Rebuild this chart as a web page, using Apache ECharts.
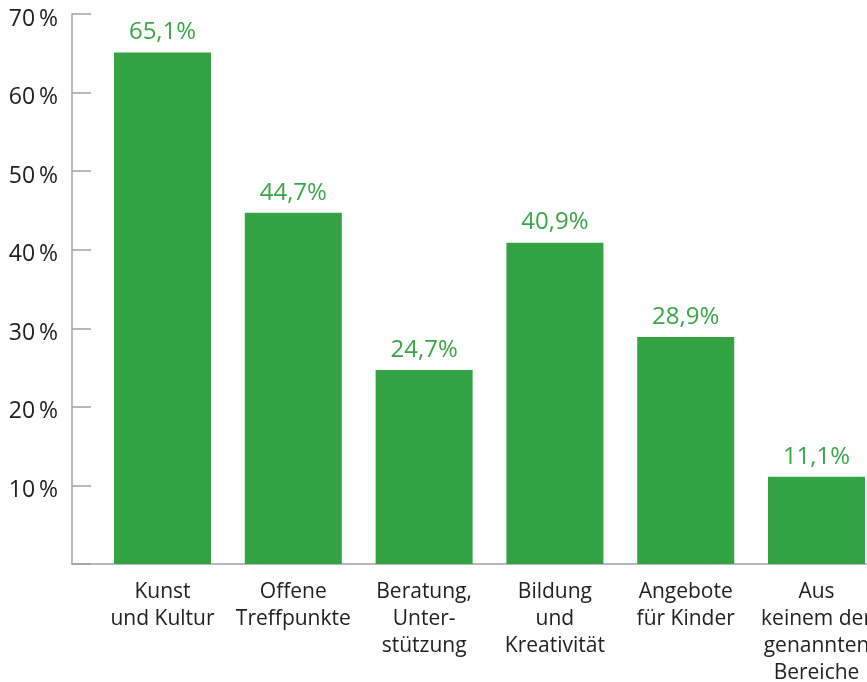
<!DOCTYPE html>
<html>
<head>
<meta charset="utf-8">
<script src="https://cdn.jsdelivr.net/npm/echarts@6/dist/echarts.min.js"></script>
<style>
  html,body{margin:0;padding:0;background:#fff;}
  #main{width:867px;height:682px;}
</style>
</head>
<body>
<div id="main"></div>
<script>
// Kategorien und Werte (Prozent)
const categories = [
    'Kunst\nund Kultur',
    'Offene\nTreffpunkte',
    'Beratung,\nUnter-\nstützung',
    'Bildung\nund\nKreativität',
    'Angebote\nfür Kinder',
    'Aus\nkeinem der\ngenannten\nBereiche'
];
const values = [65.1, 44.7, 24.7, 40.9, 28.9, 11.1];
const yTicks = [0, 10, 20, 30, 40, 50, 60, 70];

const FONT = '"Open Sans", sans-serif';
const chart = echarts.init(document.getElementById('main'));

chart.setOption({
    animation: false,
    grid: {
        left: 72,
        right: 0,
        top: 14,
        bottom: 118,
        containLabel: false,
        outerBoundsMode: 'none'
    },
    xAxis: {
        type: 'value',
        min: -0.692,
        max: 5.386,
        splitLine: {show: false},
        axisTick: {show: false},
        axisLine: {
            show: true,
            onZero: false,
            lineStyle: {color: '#a3a3a3', width: 1.5}
        },
        axisLabel: {
            customValues: categories.map((c, i) => i),
            formatter: v => categories[Math.round(v)] || '',
            color: '#222',
            fontFamily: FONT,
            fontSize: 21,
            lineHeight: 27,
            margin: 15,
            align: 'center'
        }
    },
    yAxis: {
        type: 'value',
        min: yTicks[0],
        max: yTicks[yTicks.length - 1],
        interval: 10,
        splitLine: {show: false},
        axisLine: {
            show: true,
            onZero: false,
            lineStyle: {color: '#a3a3a3', width: 1.5}
        },
        axisTick: {
            show: true,
            inside: true,
            length: 19,
            lineStyle: {color: '#a3a3a3', width: 1.5}
        },
        axisLabel: {
            formatter: v => v === 0 ? '' : v + '\u2009%',
            color: '#222',
            fontFamily: FONT,
            fontSize: 23,
            lineHeight: 10,
            verticalAlign: 'top',
            margin: 14
        }
    },
    series: [{
        type: 'bar',
        barWidth: 97,
        data: values.map((v, i) => [i, v]),
        itemStyle: {color: '#34a343'},
        label: {
            show: true,
            position: 'top',
            distance: 8,
            formatter: p => p.value[1].toFixed(1).replace('.', ',') + '%',
            color: '#3aa648',
            fontFamily: FONT,
            fontSize: 24
        }
    }]
});
</script>
</body>
</html>
